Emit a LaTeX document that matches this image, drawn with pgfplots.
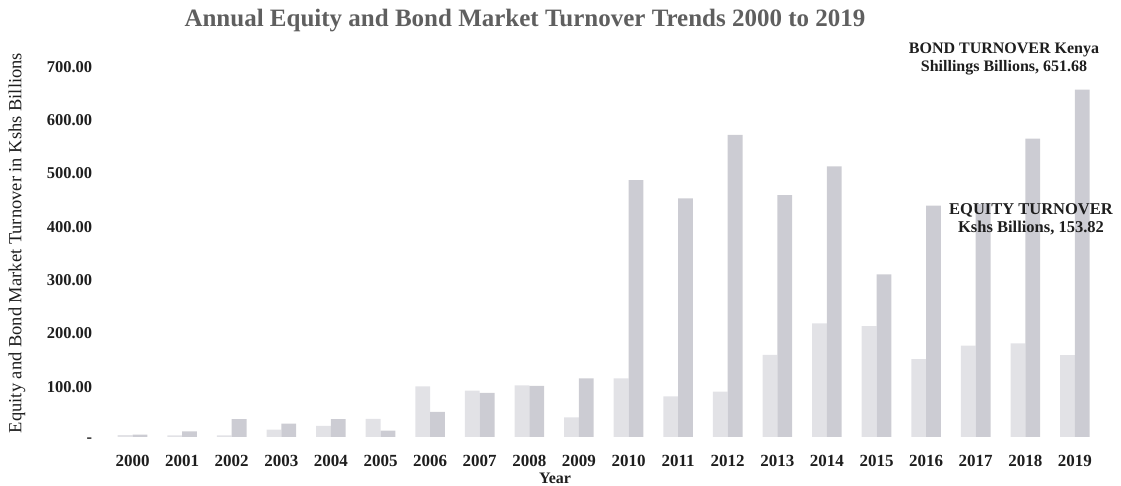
\documentclass[border=0pt]{standalone}
\usepackage{fontspec}
\setmainfont{Liberation Serif}
\usepackage{pgfplots}
\pgfplotsset{compat=1.18}
\definecolor{eqc}{RGB}{226,226,230}
\definecolor{bdc}{RGB}{204,204,211}
\definecolor{txt}{RGB}{30,30,30}
\begin{document}
\begin{tikzpicture}[x=1pt,y=1pt]
\useasboundingbox (0,0) rectangle (1121,486);
\begin{axis}[
  at={(107.7pt,49pt)}, anchor=south west,
  scale only axis, width=992pt, height=373pt,
  xmin=-0.5, xmax=19.5, ymin=0, ymax=700,
  ybar=0pt, bar width=14.8pt,
  axis line style={draw=none},
  major tick length=0pt,
  xtick={0,...,19},
  xticklabels={2000,2001,2002,2003,2004,2005,2006,2007,2008,2009,2010,2011,2012,2013,2014,2015,2016,2017,2018,2019},
  xticklabel style={font=\fontsize{17}{19}\selectfont\bfseries, text=txt, yshift=-15pt},
  ytick={0,100,...,700},
  yticklabels={-,100.00,200.00,300.00,400.00,500.00,600.00,700.00},
  yticklabel style={font=\fontsize{16.5}{19}\selectfont\bfseries, text=txt, xshift=-12pt, yshift=-3pt},
  clip=false,
]
\addplot[fill=eqc, draw=none] coordinates {
(0,3.6) (1,3.0) (2,3.0) (3,14) (4,21) (5,34) (6,95) (7,87) (8,97) (9,37)
(10,110) (11,76) (12,85) (13,154) (14,213) (15,208) (16,146) (17,171.6) (18,175.7) (19,153.82)};
\addplot[fill=bdc, draw=none] coordinates {
(0,4.5) (1,10.5) (2,33.5) (3,25) (4,33.5) (5,12) (6,47) (7,83) (8,96) (9,110)
(10,482) (11,448) (12,567) (13,454) (14,508) (15,305) (16,434) (17,437) (18,560) (19,651.68)};
\end{axis}
\node[font=\fontsize{25}{29}\selectfont\bfseries, text={rgb,255:red,95;green,95;blue,95}] at (525,465) {Annual Equity and Bond Market Turnover Trends 2000 to 2019};
\node[rotate=90, font=\fontsize{18.5}{21}\selectfont, text=txt] at (17,243) {Equity and Bond Market Turnover in Kshs Billions};
\node[font=\fontsize{16}{18}\selectfont\bfseries, text=txt] at (555,8) {Year};
\node[font=\fontsize{16}{18}\selectfont\bfseries, text=txt, align=center] at (1004,427) {BOND TURNOVER Kenya\\Shillings Billions, 651.68};
\node[font=\fontsize{16.5}{18}\selectfont\bfseries, text=txt, align=center] at (1031,267) {EQUITY TURNOVER\\Kshs Billions, 153.82};
\end{tikzpicture}
\end{document}
